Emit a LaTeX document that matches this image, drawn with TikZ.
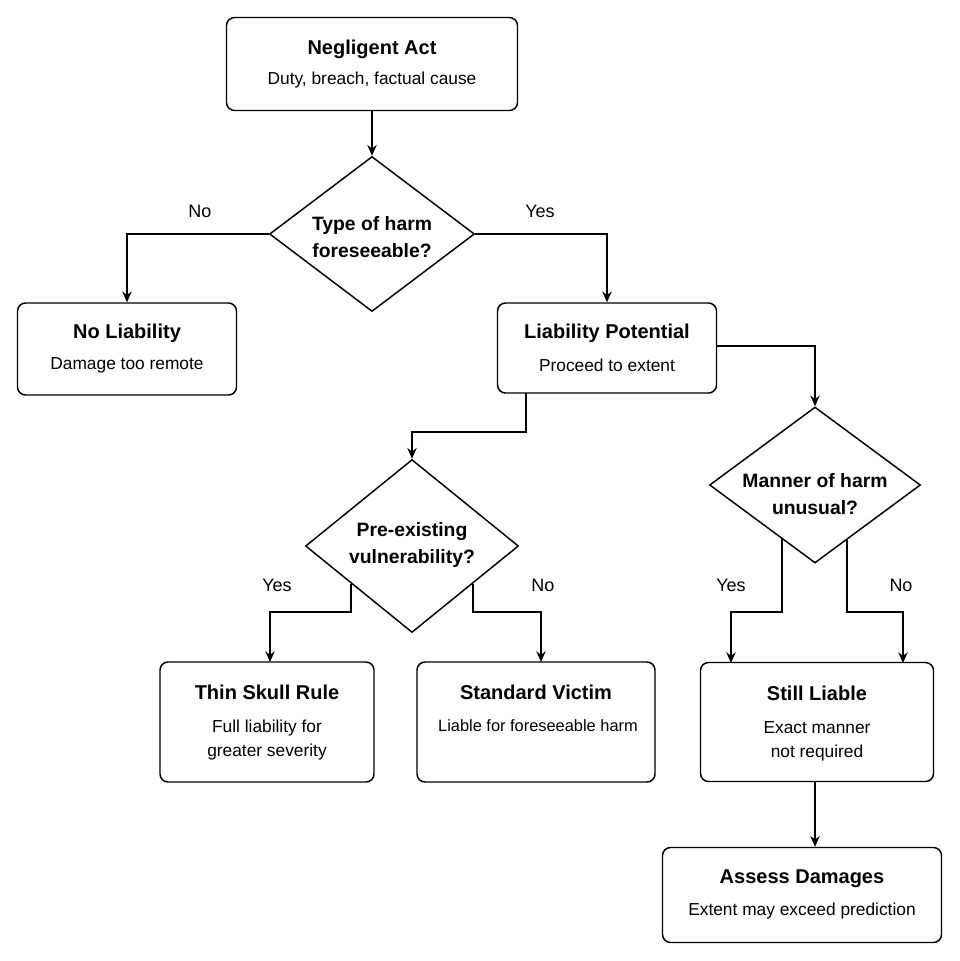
\documentclass[tikz,border=0pt]{standalone}
\usepackage{fontspec}
\setmainfont{Liberation Sans}
\usetikzlibrary{shapes.geometric,arrows.meta,calc}
\begin{document}
\begin{tikzpicture}[x=0.75pt,y=-0.75pt,
  box/.style={draw,rounded corners=6pt,line width=1.1pt,align=center,inner sep=0pt},
  dia/.style={draw,diamond,line width=1.1pt,inner sep=0pt},
  dtext/.style={align=center,font=\fontsize{14.5}{20}\selectfont\bfseries},
  lbl/.style={font=\fontsize{13.5}{16}\selectfont},
  arr/.style={line width=1.1pt,-{Stealth[length=8pt,width=7pt]}},
  tt/.style={font=\fontsize{15}{18}\selectfont\bfseries},
  st/.style={font=\fontsize{13}{18}\selectfont}]
\useasboundingbox (0,0) rectangle (960,961);
\node[box,minimum width=291*0.75pt,minimum height=93*0.75pt] (neg) at (372,64) {};
\node[tt] (negt) at (372,49) {Negligent Act};
\node[st] (negs) at (372,80) {Duty, breach, factual cause};

\node[dia,minimum width=205*0.75pt,minimum height=155*0.75pt] (d1) at (372,234) {};
\node[dtext] (d1t) at (372,237) {Type of harm\\foreseeable?};

\node[box,minimum width=219*0.75pt,minimum height=92*0.75pt] (nl) at (127,349) {};
\node[tt] (nlt) at (127,333) {No Liability};
\node[st] (nls) at (127,365) {Damage too remote};

\node[box,minimum width=219*0.75pt,minimum height=90*0.75pt] (lp) at (607,348) {};
\node[tt] (lpt) at (607,333) {Liability Potential};
\node[st] (lps) at (607,365) {Proceed to extent};

\node[dia,minimum width=213*0.75pt,minimum height=173*0.75pt] (d2) at (412,546) {};
\node[dtext] (d2t) at (412,545) {Pre-existing\\vulnerability?};

\node[dia,minimum width=211*0.75pt,minimum height=156*0.75pt] (d3) at (815,485) {};
\node[dtext] (d3t) at (815,494) {Manner of harm\\unusual?};

\node[box,minimum width=214*0.75pt,minimum height=120*0.75pt] (ts) at (267,722) {};
\node[tt] (tst) at (267,692) {Thin Skull Rule};
\node[st,align=center] (tss) at (267,740) {Full liability for\\greater severity};

\node[box,minimum width=238*0.75pt,minimum height=120*0.75pt] (sv) at (536,722) {};
\node[tt] (svt) at (536,692) {Standard Victim};
\node[st,font=\fontsize{12.3}{18}\selectfont] (svs) at (538,726) {Liable for foreseeable harm};

\node[box,minimum width=233*0.75pt,minimum height=119*0.75pt] (sl) at (817,722) {};
\node[tt] (slt) at (817,693) {Still Liable};
\node[st,align=center] (sls) at (817,741) {Exact manner\\not required};

\node[box,minimum width=279*0.75pt,minimum height=95*0.75pt] (ad) at (802,895) {};
\node[tt] (adt) at (802,879) {Assess Damages};
\node[st] (ads) at (802,911) {Extent may exceed prediction};

\draw[arr] (neg.south) -- (d1.north);
\draw[arr] (d1.west) -| (nl.north);
\node[lbl] (l1) at (200,211) {No};
\draw[arr] (d1.east) -| (lp.north);
\node[lbl] (l2) at (540,211) {Yes};
\draw[arr] (lp.east |- 0,346) -| (d3.north);
\draw[arr] (526,393) -- (526,432) -| (d2.north);
\coordinate (a1) at ($(d2.west)!0.43!(d2.south)$);
\coordinate (a2) at ($(d2.east)!0.43!(d2.south)$);
\draw[arr] (a1) |- (270,612) -- (270,662);
\draw[arr] (a2) |- (541,612) -- (541,662);
\node[lbl] (l3) at (277,585) {Yes};
\node[lbl] (l4) at (543,585) {No};
\coordinate (b1) at ($(d3.west)!0.69!(d3.south)$);
\coordinate (b2) at ($(d3.east)!0.70!(d3.south)$);
\draw[arr] (b1) |- (731,612) -- (731,663);
\draw[arr] (b2) |- (903,612) -- (903,663);
\node[lbl] (l5) at (731,585) {Yes};
\node[lbl] (l6) at (901,585) {No};
\draw[arr] (sl.south -| 815,0) -- (ad.north -| 815,0);
\end{tikzpicture}
\end{document}
